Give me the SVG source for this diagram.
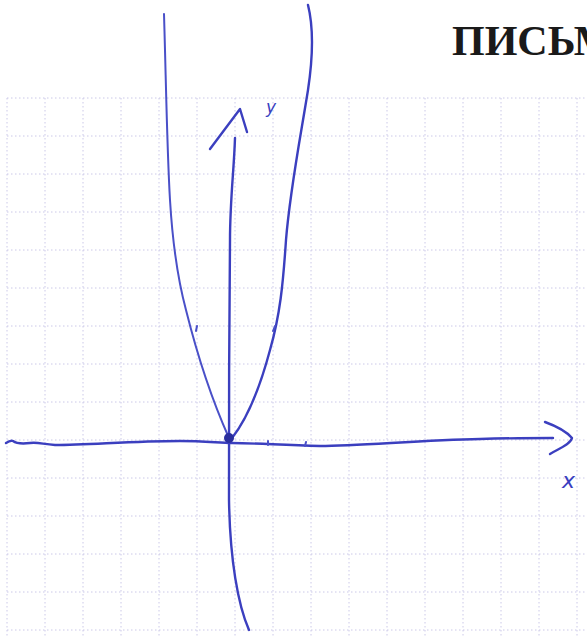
<svg xmlns="http://www.w3.org/2000/svg" width="587" height="637" viewBox="0 0 587 637">
<style>
.grid{stroke:#cbc8e8;stroke-width:1;stroke-dasharray:1.5,2.5;fill:none}
.ink{stroke:#3b3fbf;stroke-width:2.4;fill:none;stroke-linecap:round;stroke-linejoin:round}
.thin{stroke:#4a50c8;stroke-width:2;fill:none;stroke-linecap:round;stroke-linejoin:round}
.lbl{font-family:"DejaVu Sans",sans-serif;font-style:italic;fill:#3b3fbf}
</style>
<rect width="587" height="637" fill="#ffffff"/>
<text x="452" y="55" font-family="'Liberation Serif',serif" font-weight="bold" font-size="42" fill="#1a1a1a">ПИСЬМ</text>
<g id="grid">
<path class="grid" d="M7 98H587M7 136H587M7 174H587M7 212H587M7 250H587M7 288H587M7 326H587M7 364H587M7 402H587M7 440H587M7 478H587M7 516H587M7 554H587M7 592H587M7 630H587"/>
<path class="grid" d="M7 98V637M45 98V637M83 98V637M121 98V637M159 98V637M197 98V637M235 98V637M273 98V637M311 98V637M349 98V637M387 98V637M425 98V637M463 98V637M501 98V637M539 98V637M577 98V637"/>
</g>
<g id="axes">
<path class="ink" d="M6 443 C9 441 11 440 13 441 C17 444 22 444 30 443 C38 442 42 444 55 445 C90 445 130 441 180 441 C205 441 220 443 232 443 C255 443 280 445 320 446 C360 446 420 440 480 439 C510 438 530 438 553 438"/>
<path class="ink" d="M545 422 C556 426 566 431 572 438 C570 445 558 449 550 454"/>
<path class="ink" d="M235 138 C234 170 230 200 230 240 C229 320 229 420 229 500 C230 560 238 605 249 630"/>
<path class="ink" d="M210 149 L240 109 L247 132"/>
</g>
<g id="parabola">
<path class="thin" d="M164 14 C166 80 167 150 170 200 C173 250 178 280 186 310 C196 350 212 400 229 438"/>
<path class="ink" d="M308 5 C313 25 314 50 308 90 C300 140 290 190 286 240 C283 285 280 315 270 350 C262 380 250 415 232 438"/>
<circle cx="229" cy="438" r="5" fill="#2a2e9e"/>
<path class="thin" d="M197 326 L196 331M275 326 L273 331M268 441 L268 445M306 442 L305 446"/>
</g>
<g id="labels">
<text class="lbl" x="266" y="113" font-size="17">y</text>
<text class="lbl" x="562" y="488" font-size="22">x</text>
</g>
</svg>
